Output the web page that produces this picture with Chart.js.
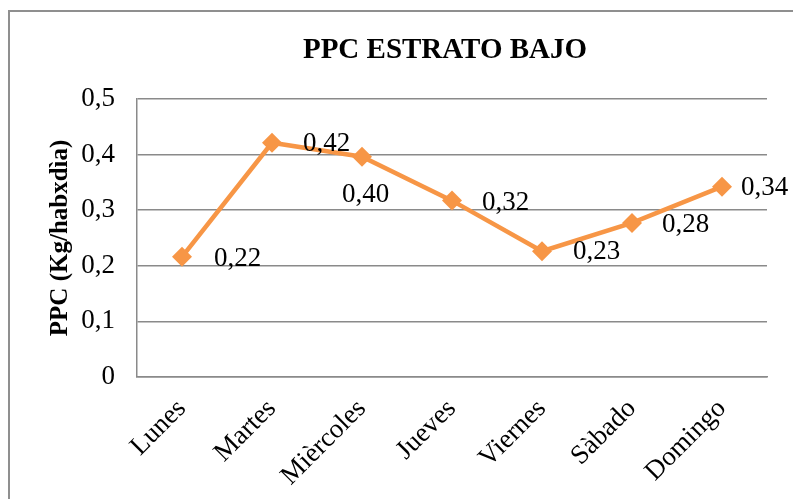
<!DOCTYPE html>
<html>
<head>
<meta charset="utf-8">
<script src="https://cdn.jsdelivr.net/npm/chart.js@4.4.0/dist/chart.umd.min.js"></script>
<style>
  html, body { margin: 0; padding: 0; background: #ffffff; overflow: hidden; }
  #frame { position: absolute; left: 8px; top: 10px; width: 870px; height: 510px; border: 2px solid #8f8f8f; background: #fff; }
  #c { display: block; }
</style>
</head>
<body>
<div id="frame"><canvas id="c" width="870" height="510"></canvas></div>
<script>
const categories = ['Lunes', 'Martes', 'Mièrcoles', 'Jueves', 'Viernes', 'Sàbado', 'Domingo'];
const ppcValues = [0.216, 0.421, 0.396, 0.317, 0.226, 0.277, 0.342];
const yTicks = [0, 0.1, 0.2, 0.3, 0.4, 0.5];
const chartTitle = 'PPC ESTRATO BAJO';
const yTitle = 'PPC (Kg/habxdìa)';

const SERIF = '"Liberation Serif", "Times New Roman", serif';
const ORANGE = '#F79646';
const GRID = '#8a8a8a';

const dataLabels = {
  id: 'dataLabels',
  afterDatasetsDraw(chart, args, opts) {
    const ctx = chart.ctx;
    const meta = chart.getDatasetMeta(0);
    ctx.save();
    ctx.font = '27px ' + SERIF;
    ctx.fillStyle = '#000';
    ctx.textAlign = 'left';
    ctx.textBaseline = 'middle';
    meta.data.forEach((pt, i) => {
      const v = chart.data.datasets[0].data[i];
      const txt = v.toFixed(2).replace('.', ',');
      const off = opts.offsets[i];
      ctx.fillText(txt, pt.x + off[0], pt.y + off[1]);
    });
    ctx.restore();
  }
};

new Chart(document.getElementById('c'), {
  type: 'line',
  data: {
    labels: categories,
    datasets: [{
      data: ppcValues,
      borderColor: ORANGE,
      backgroundColor: ORANGE,
      borderWidth: 4.5,
      pointStyle: 'rectRot',
      pointRadius: 10,
      pointHoverRadius: 10,
      pointBorderWidth: 0,
      tension: 0,
      clip: false
    }]
  },
  options: {
    responsive: false,
    animation: false,
    events: [],
    layout: { padding: 0 },
    plugins: {
      legend: { display: false },
      tooltip: { enabled: false },
      title: {
        display: true,
        text: chartTitle,
        color: '#000',
        font: { family: SERIF, size: 29, weight: 'bold' },
        padding: { top: 21, bottom: 31 }
      },
      dataLabels: {
        offsets: [[32, 2], [31, 1], [-20, 38], [30, 2], [31, 1], [30, 2], [19, 1]]
      }
    },
    scales: {
      x: {
        offset: true,
        grid: { display: false, drawTicks: false },
        border: { display: true, color: GRID, width: 1.5 },
        ticks: {
          autoSkip: false,
          maxRotation: 45,
          minRotation: 45,
          padding: 16,
          color: '#000',
          font: { family: SERIF, size: 27 }
        },
        afterFit(scale) { scale.height = 145; }
      },
      y: {
        min: 0,
        max: 0.5,
        afterBuildTicks(scale) { scale.ticks = yTicks.map(v => ({ value: v })); },
        grid: { color: GRID, lineWidth: 1.5, drawTicks: false },
        border: { display: true, color: GRID, width: 1.5 },
        ticks: {
          padding: 22,
          color: '#000',
          font: { family: SERIF, size: 27 },
          callback: v => String(v).replace('.', ',')
        },
        title: {
          display: true,
          text: yTitle,
          color: '#000',
          font: { family: SERIF, size: 25, weight: 'bold' },
          padding: { top: 36, bottom: 0 }
        },
        afterFit(scale) { scale.width = 127; }
      },
      ySpace: {
        position: 'right',
        min: 0,
        max: 0.5,
        grid: { display: false, drawTicks: false },
        border: { display: false },
        ticks: { display: false },
        afterFit(scale) { scale.width = 113; }
      }
    }
  },
  plugins: [dataLabels]
});
</script>
</body>
</html>
